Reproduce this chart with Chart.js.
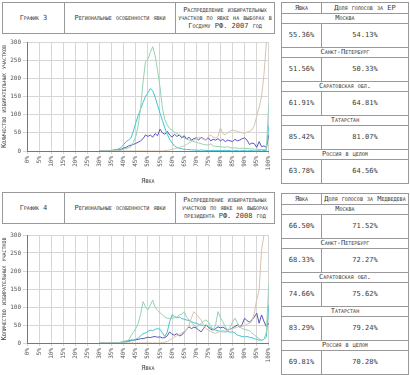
<!DOCTYPE html>
<html lang="ru">
<head>
<meta charset="UTF-8">
<title>Региональные особенности явки</title>
<script src="https://cdn.jsdelivr.net/npm/chart.js"></script>
<style>
    body {
        margin: 0; width: 410px; height: 375px; position: relative; overflow: hidden; background: #fff;
        font-family: 'DejaVu Sans Mono', monospace; font-size: 7px; font-variant: small-caps; color: #3a3a3a;
    }
    .head { position: absolute; left: 2px; width: 273px; height: 32px; border-collapse: collapse; }
    .head td { border: 1px solid #999; text-align: center; vertical-align: middle; padding: 0 2px; line-height: 8px; }
    .side { position: absolute; left: 281px; width: 128px; border-collapse: collapse; }
    .side td { border: 1px solid #999; text-align: center; vertical-align: middle; padding: 0; line-height: 7px; }
    .side tr.hd td { height: 10px; }
    .side tr.nm td { height: 9px; }
    .side tr.vl td { height: 23px; }
    canvas { position: absolute; left: 0; }
</style>
</head>
<body>
<table class="head" style="top:2px">
    <tr><td style="width:57px">График 3</td><td style="width:106px">Региональные особенности явки</td>
        <td>Распределение избирательных участков по явке на выборах в Госдуму РФ. 2007 год</td></tr>
</table>
<table class="head" style="top:192px">
    <tr><td style="width:57px">График 4</td><td style="width:106px">Региональные особенности явки</td>
        <td>Распределение избирательных участков по явке на выборах президента РФ. 2008 год</td></tr>
</table>
<canvas id="chart07" width="278" height="152" style="top:36px"></canvas>
<canvas id="chart08" width="278" height="147" style="top:228px"></canvas>
<table class="side" id="side07" style="top:2px"></table>
<table class="side" id="side08" style="top:193px"></table>

<script>
    // turnout bins, %
    const turnout = [30, 31, 32, 33, 34, 35, 36, 37, 38, 39, 40, 41, 42, 43, 44, 45, 46, 47, 48, 49,
        50, 51, 52, 53, 54, 55, 56, 57, 58, 59, 60, 61, 62, 63, 64, 65, 66, 67, 68, 69,
        70, 71, 72, 73, 74, 75, 76, 77, 78, 79, 80, 81, 82, 83, 84, 85, 86, 87, 88, 89,
        90, 91, 92, 93, 94, 95, 96, 97, 98, 99, 100];

    // 2007
    const moscow07 = [1, 1, 0, 0, 1, 2, 3, 4, 6, 10, 18, 26, 30, 36, 55, 78, 98, 116, 134, 150,
        160, 172, 166, 148, 126, 104, 84, 64, 46, 32, 22, 14, 10, 7, 6, 5, 4, 4, 3, 3,
        2, 2, 3, 2, 2, 1, 1, 2, 1, 1, 1, 1, 2, 1, 1, 0, 1, 1, 0, 1,
        1, 0, 1, 1, 0, 0, 1, 0, 1, 2, 70];
    const spb07 = [0, 0, 0, 0, 0, 1, 1, 2, 2, 3, 5, 7, 9, 12, 24, 40, 70, 120, 190, 246,
        252, 272, 287, 262, 222, 176, 118, 86, 72, 62, 58, 52, 48, 44, 40, 36, 33, 30, 28, 26,
        24, 22, 20, 18, 17, 16, 20, 14, 13, 12, 12, 11, 10, 12, 9, 8, 9, 8, 7, 8,
        7, 7, 6, 6, 5, 5, 4, 4, 4, 6, 132];
    const saratov07 = [0, 0, 0, 0, 1, 1, 2, 3, 3, 5, 8, 10, 14, 16, 18, 21, 24, 28, 34, 44,
        40, 44, 38, 48, 42, 60, 50, 46, 54, 44, 38, 46, 40, 44, 36, 42, 33, 38, 30, 34,
        36, 30, 38, 34, 30, 36, 28, 32, 30, 34, 28, 32, 26, 30, 28, 26, 32, 28, 30, 34,
        36, 30, 18, 22, 20, 10, 26, 12, 14, 10, 44];
    const tatar07 = [0, 0, 0, 0, 0, 0, 0, 0, 0, 0, 0, 0, 0, 0, 0, 0, 0, 0, 0, 0,
        0, 0, 0, 0, 0, 0, 0, 1, 2, 3, 4, 6, 8, 10, 12, 14, 18, 22, 26, 30,
        34, 38, 36, 32, 30, 40, 44, 38, 36, 40, 64, 48, 44, 50, 54, 58, 56, 54, 52, 50,
        48, 52, 54, 58, 70, 96, 120, 150, 210, 300, 330];

    // 2008
    const moscow08 = [0, 0, 0, 0, 0, 0, 0, 0, 1, 1, 2, 3, 4, 6, 8, 10, 14, 20, 26, 28,
        32, 36, 34, 38, 40, 38, 28, 18, 30, 60, 78, 74, 70, 72, 68, 66, 64, 62, 60, 56,
        55, 52, 50, 48, 50, 46, 42, 38, 36, 34, 32, 34, 30, 32, 30, 31, 28, 22, 20, 18,
        17, 18, 16, 15, 12, 10, 8, 8, 10, 17, 105];
    const spb08 = [0, 0, 0, 0, 0, 0, 0, 0, 1, 2, 4, 6, 8, 20, 30, 40, 55, 80, 115, 100,
        92, 105, 119, 100, 90, 84, 78, 72, 69, 68, 69, 70, 72, 78, 80, 87, 72, 64, 56, 50,
        45, 48, 55, 60, 64, 58, 48, 36, 50, 87, 70, 59, 45, 36, 44, 58, 69, 56, 45, 40,
        38, 36, 34, 28, 22, 17, 12, 8, 10, 30, 166];
    const saratov08 = [0, 0, 0, 0, 0, 0, 0, 0, 1, 2, 4, 5, 6, 8, 8, 9, 10, 12, 12, 14,
        16, 15, 17, 18, 16, 17, 14, 15, 20, 31, 24, 22, 26, 20, 22, 30, 38, 45, 40, 44,
        42, 36, 31, 40, 50, 44, 38, 36, 40, 45, 42, 44, 40, 36, 38, 42, 46, 50, 44, 52,
        69, 62, 58, 64, 72, 83, 55, 78, 60, 45, 55];
    const tatar08 = [0, 0, 0, 0, 0, 0, 0, 0, 0, 0, 0, 0, 0, 0, 0, 0, 0, 0, 0, 0,
        0, 0, 0, 0, 0, 0, 1, 2, 4, 8, 12, 17, 20, 24, 28, 32, 36, 50, 70, 87,
        80, 72, 64, 50, 40, 36, 32, 28, 27, 30, 32, 30, 34, 36, 38, 40, 42, 45, 44, 46,
        48, 52, 55, 60, 83, 120, 147, 258, 300, 340, 360];

    // side tables
    const regions = ['Москва', 'Санкт-Петербург', 'Саратовская обл.', 'Татарстан', 'Россия в целом'];
    const turnout07 = ['55.36%', '51.56%', '61.91%', '85.42%', '63.78%'];
    const share07 = ['54.13%', '50.33%', '64.81%', '81.07%', '64.56%'];
    const turnout08 = ['66.50%', '68.33%', '74.66%', '83.29%', '69.81%'];
    const share08 = ['71.52%', '72.27%', '75.62%', '79.24%', '70.28%'];

    function fillTable(id, shareTitle, turn, share) {
        let html = `<tr class="hd"><td style="width:39px">Явка</td><td>${shareTitle}</td></tr>`;
        for (let i = 0; i < regions.length; i++) {
            html += `<tr class="nm"><td colspan="2">${regions[i]}</td></tr>`;
            html += `<tr class="vl"><td>${turn[i]}</td><td>${share[i]}</td></tr>`;
        }
        document.getElementById(id).innerHTML = html;
    }
    fillTable('side07', 'Доля голосов за ЕР', turnout07, share07);
    fillTable('side08', 'Доля голосов за Медведева', turnout08, share08);

    const tickFont = { family: "'DejaVu Sans Mono'", size: 6 };
    const titleFont = { family: "'DejaVu Sans Mono'", size: 7, weight: 'small-caps' };

    function makeChart(id, series, padTop, axisH) {
        const ctx = document.getElementById(id).getContext('2d');
        return new Chart(ctx, {
            type: 'line',
            data: {
                datasets: series.map(s => ({
                    data: turnout.map((t, i) => ({ x: t, y: s.values[i] })),
                    borderColor: s.color,
                    borderWidth: 1,
                    pointRadius: 0,
                    tension: 0,
                    fill: false
                }))
            },
            options: {
                responsive: false,
                animation: false,
                layout: { padding: { top: padTop, right: 8, left: 0, bottom: 0 } },
                plugins: { legend: { display: false }, tooltip: { enabled: false } },
                scales: {
                    x: {
                        type: 'linear', min: 0, max: 100,
                        ticks: {
                            stepSize: 5, autoSkip: false, maxRotation: 90, minRotation: 90,
                            callback: v => v + '%', font: tickFont, color: '#555', padding: 2
                        },
                        grid: { color: '#d6d6d6', tickLength: 3 },
                        border: { color: '#777' },
                        title: { display: true, text: 'Явка', font: titleFont, color: '#444', padding: { top: 0, bottom: 3 } },
                        afterFit: s => { s.height = axisH; }
                    },
                    y: {
                        min: 0, max: 300,
                        ticks: {
                            stepSize: 25, callback: v => (v % 50 === 0 ? v : ''),
                            font: tickFont, color: '#555', padding: 2
                        },
                        grid: { color: '#d6d6d6', tickLength: 4 },
                        border: { color: '#777' },
                        title: { display: true, text: 'Количество избирательных участков', font: titleFont, color: '#444', padding: 0 },
                        afterFit: s => { s.width = 27; }
                    }
                }
            }
        });
    }

    makeChart('chart07', [
        { values: tatar07, color: '#d9c3ad' },
        { values: spb07, color: '#93d3b3' },
        { values: moscow07, color: '#3fc6cf' },
        { values: saratov07, color: '#5a55b8' }
    ], 6, 37);

    makeChart('chart08', [
        { values: tatar08, color: '#d9c3ad' },
        { values: spb08, color: '#93d3b3' },
        { values: moscow08, color: '#3fc6cf' },
        { values: saratov08, color: '#5a55b8' }
    ], 7, 32);
</script>
</body>
</html>
